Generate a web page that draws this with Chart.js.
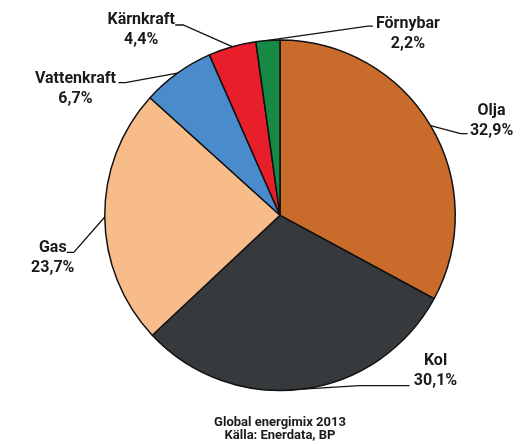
<!DOCTYPE html>
<html>
<head>
<meta charset="utf-8">
<script src="https://cdn.jsdelivr.net/npm/chart.js@4.4.0/dist/chart.umd.min.js"></script>
<style>
  html, body { margin: 0; padding: 0; background: #fff; }
  #wrap { width: 520px; height: 444px; }
</style>
</head>
<body>
<div id="wrap"><canvas id="myChart" width="520" height="444"></canvas></div>
<script>
// energislag och andel (%)
var sources = ["Olja", "Kol", "Gas", "Vattenkraft", "Kärnkraft", "Förnybar"];
var shares = [32.9, 30.1, 23.7, 6.7, 4.4, 2.2];
var titleLines = ["Global energimix 2013", "Källa: Enerdata, BP"];

var sliceColors = ['#C96C2B', '#373A3D', '#F8BB8A', '#4A8BCB', '#E81E2B', '#168A45'];

// placering av etiketter: knä relativt kantpunkten, svans, text relativt svansens slut
var labelLayout = [
    { elbow: [30, 8], tail: 7, text: [24, -19] },
    { elbow: [57, -3.5], tail: 50, text: [26, -21] },
    { elbow: [-31, 35.5], tail: -7, text: [-14, 0] },
    { elbow: [-52, 9.4], tail: -7, text: [-43, 0] },
    { elbow: [-49, -21.7], tail: -8, text: [-34, -1] },
    { elbow: [100, -14.4], tail: 5, text: [35, 2] }
];

function fmtPct(v) {
    return v.toFixed(1).replace('.', ',') + '%';
}

// ritar etiketter med hänvisningslinjer
var leaderLabels = {
    id: 'leaderLabels',
    afterDatasetsDraw: function (chart) {
        var ctx = chart.ctx;
        var meta = chart.getDatasetMeta(0);
        ctx.save();
        ctx.strokeStyle = '#111';
        ctx.lineWidth = 1.3;
        ctx.fillStyle = '#1a1a1a';
        ctx.font = 'bold 16px Roboto';
        ctx.textAlign = 'center';
        ctx.textBaseline = 'alphabetic';
        meta.data.forEach(function (arc, i) {
            var mid = (arc.startAngle + arc.endAngle) / 2;
            var ex = arc.x + Math.cos(mid) * arc.outerRadius;
            var ey = arc.y + Math.sin(mid) * arc.outerRadius;
            var lay = labelLayout[i];
            var bx = ex + lay.elbow[0];
            var by = ey + lay.elbow[1];
            var tx = bx + lay.tail;
            ctx.beginPath();
            ctx.moveTo(ex, ey);
            ctx.lineTo(bx, by);
            ctx.lineTo(tx, by);
            ctx.stroke();
            var cx = tx + lay.text[0];
            var cy = by + lay.text[1];
            ctx.fillText(sources[i], cx, cy);
            ctx.fillText(fmtPct(shares[i]), cx, cy + 20);
        });
        ctx.restore();
    }
};

var ctx = document.getElementById('myChart').getContext('2d');
var myChart = new Chart(ctx, {
    type: 'pie',
    data: {
        labels: sources,
        datasets: [{
            data: shares,
            backgroundColor: sliceColors,
            borderColor: '#111',
            borderWidth: 1.5
        }]
    },
    options: {
        responsive: false,
        animation: false,
        layout: {
            padding: { top: 39, left: 104, right: 64, bottom: 0 }
        },
        plugins: {
            legend: { display: false },
            tooltip: { enabled: false },
            title: {
                display: true,
                position: 'bottom',
                text: titleLines,
                color: '#1a1a1a',
                font: { family: 'Roboto', size: 13, weight: 'bold', lineHeight: 1.0 },
                padding: { top: 25, bottom: 1.4 }
            }
        }
    },
    plugins: [leaderLabels]
});
</script>
</body>
</html>
